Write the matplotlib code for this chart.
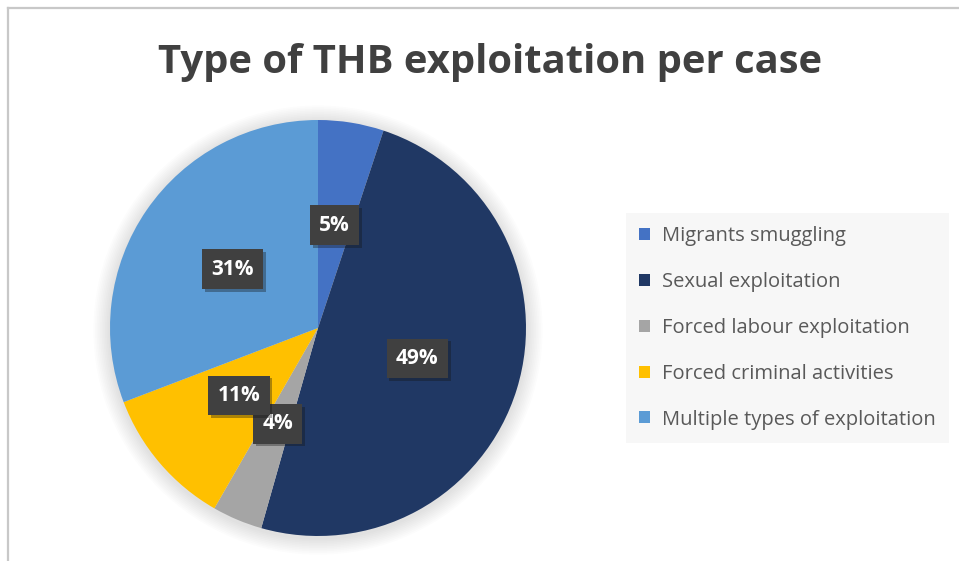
import matplotlib
matplotlib.use("Agg")
import matplotlib.pyplot as plt
from matplotlib.lines import Line2D
from matplotlib.patches import Circle
import matplotlib.patheffects as pe

categories = ["Migrants smuggling", "Sexual exploitation", "Forced labour exploitation",
              "Forced criminal activities", "Multiple types of exploitation"]
values = [5.1, 49.3, 3.9, 10.9, 30.8]
colors = ["#4472C4", "#203864", "#A5A5A5", "#FFC000", "#5B9BD5"]
title = "Type of THB exploitation per case"

W, H = 959, 561
fig = plt.figure(figsize=(W / 100, H / 100), dpi=100)
fig.patch.set_facecolor("white")

# border lines (top & left)
fig.add_artist(Line2D([8 / W, 1], [1 - 8 / H, 1 - 8 / H], transform=fig.transFigure,
                      color="#C8C8C8", lw=1.6))
fig.add_artist(Line2D([8 / W, 8 / W], [0, 1 - 8 / H], transform=fig.transFigure,
                      color="#C8C8C8", lw=1.6))

cx, cy, r = 318, 328, 208
ax = fig.add_axes([(cx - r * 1.1) / W, (H - cy - r * 1.1) / H, 2.2 * r / W, 2.2 * r / H])

# soft shadow behind the pie
for i in range(10):
    ax.add_patch(Circle((0.0, -0.01), 1.0 + 0.008 * (i + 1), color="black",
                        alpha=0.012, lw=0, zorder=0))

wedges, texts, autotexts = ax.pie(
    values, colors=colors, startangle=90, counterclock=False,
    autopct=lambda p: f"{p:.0f}%", pctdistance=0.5, radius=1.0,
    wedgeprops=dict(linewidth=0), textprops=dict(color="white"))

ax.set_xlim(-1.1, 1.1)
ax.set_ylim(-1.1, 1.1)
ax.set_aspect("equal")
ax.axis("off")

for t in autotexts:
    t.set_fontfamily("Open Sans")
    t.set_fontweight("bold")
    t.set_fontsize(15)
    t.set_bbox(dict(boxstyle="square,pad=0.45", facecolor="#404040", edgecolor="none"))
    t.get_bbox_patch().set_path_effects([pe.SimplePatchShadow(offset=(2, -2), alpha=0.35), pe.Normal()])
    t.set_zorder(5)

fig.text(490 / W, 1 - 62 / H, title, ha="center", va="center", fontsize=28.8,
         fontweight="bold", color="#404040", fontfamily="Open Sans")

leg = fig.legend(wedges, categories, loc="center left",
                 bbox_to_anchor=(626 / W, 1 - 328 / H),
                 frameon=True, fancybox=False,
                 prop=dict(family="Open Sans", size=14.5),
                 labelcolor="#595959", handlelength=0.55, handleheight=0.55,
                 handletextpad=0.6, labelspacing=1.28, borderpad=0.65,
                 borderaxespad=0)
leg.get_frame().set_facecolor("#F5F5F5")
leg.get_frame().set_edgecolor("none")

fig.savefig("out.png", dpi=100)
